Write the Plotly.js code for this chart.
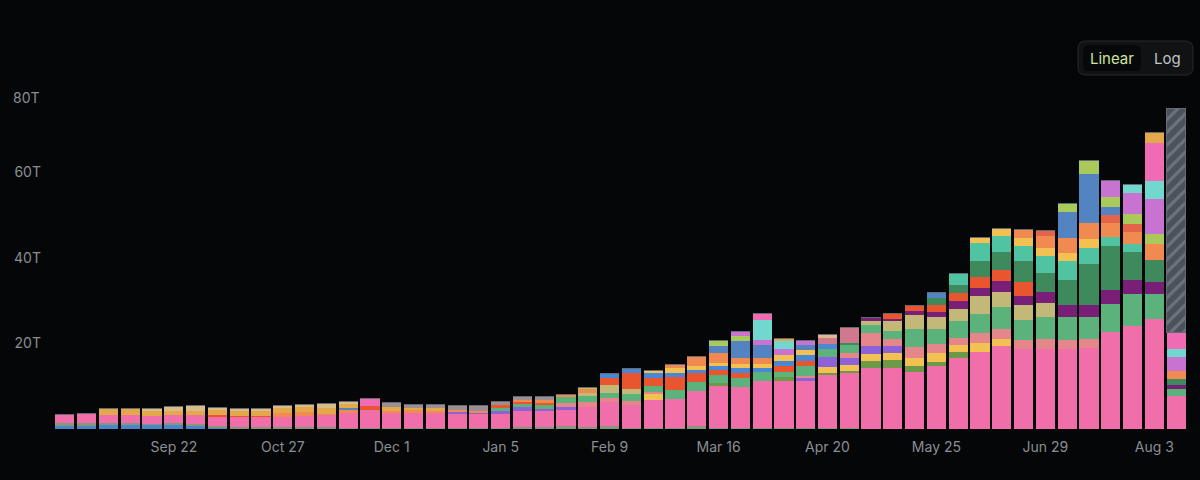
<!DOCTYPE html>
<html><head><meta charset="utf-8">
<script src="https://cdn.plot.ly/plotly-3.0.1.min.js"></script>
<style>html,body{margin:0;padding:0;background:#050608;}#chart{width:1200px;height:480px;}</style>
</head><body><div id="chart"></div>
<script>
// ---------- DATA (values in trillions) ----------
const weeks = [
 '2024-08-18','2024-08-25','2024-09-01','2024-09-08','2024-09-15','2024-09-22','2024-09-29','2024-10-06','2024-10-13','2024-10-20','2024-10-27','2024-11-03','2024-11-10',
 '2024-11-17','2024-11-24','2024-12-01','2024-12-08','2024-12-15','2024-12-22','2024-12-29','2025-01-05','2025-01-12','2025-01-19','2025-01-26','2025-02-02','2025-02-09',
 '2025-02-16','2025-02-23','2025-03-02','2025-03-09','2025-03-16','2025-03-23','2025-03-30','2025-04-06','2025-04-13','2025-04-20','2025-04-27','2025-05-04','2025-05-11',
 '2025-05-18','2025-05-25','2025-06-01','2025-06-08','2025-06-15','2025-06-22','2025-06-29','2025-07-06','2025-07-13','2025-07-20','2025-07-27','2025-08-03','2025-08-10'];
const tickDates  = ['2024-09-22','2024-10-27','2024-12-01','2025-01-05','2025-02-09','2025-03-16','2025-04-20','2025-05-25','2025-06-29','2025-08-03'];
const tickLabels = ['Sep 22','Oct 27','Dec 1','Jan 5','Feb 9','Mar 16','Apr 20','May 25','Jun 29','Aug 3'];
const yTickVals  = [20,40,60];
const yTickLabels= ['20T','40T','60T'];
const yTopLabel  = '80T';

const blue0 = [0.8,0.8,1.0,1.0,0.9,1.0,0.8,0.3,0,0,0,0,0,
 0,0,0,0,0,0,0,0,0,0,0,0,0,
 0,0,0,0,0,0,0,0,0,0,0,0,0,
 0,0,0,0,0,0,0,0,0,0,0,0,0];
const base = [0.7,0.7,0.4,0.4,0.3,0.4,0.3,0.3,0.5,0.5,0.5,0.5,0.5,
 0.3,0.2,0.3,0.3,0.3,0.3,0.3,0.3,0.4,0.4,0.6,0.5,0.6,
 0.3,0.3,0.3,0.6,0.3,0.3,0.3,0.3,0.3,0.3,0.3,0,0,
 0,0,0,0,0,0,0,0,0,0,0,0,0];
const pink = [1.8,2.2,1.9,1.9,1.9,1.9,2.2,2.3,2.2,2.2,2.4,2.6,2.7,
 3.5,4.3,3.4,3.5,3.4,3.3,3.2,3.3,3.9,3.7,3.8,4.7,5.8,
 5.4,6.6,6.7,8.2,9.7,9.5,10.9,10.9,10.9,12.4,12.8,14.3,14.3,
 13.4,14.7,16.6,18.1,19.4,18.6,18.8,18.6,18.9,22.8,24.1,25.7,7.7];
const olive = [0,0,0,0,0,0,0,0,0,0,0,0,0,
 0,0,0,0,0,0,0,0,0,0,0,0,0,
 0,0,0,0,0.8,0,0,0.9,0,0.5,0.5,1.6,1.9,
 1.4,1.0,1.3,0,0,0,0,0,0,0,0,0,0];
const yellowLow = [0,0,0,0,0,0,0,0,0,0,0,0,0,
 0,0,0,0,0,0,0,0,0,0,0,0,0,
 0,1.2,0,0,0,0,0,0,0,1.4,1.4,1.7,1.6,
 1.9,2.0,1.8,2.1,1.6,0,0,0,0,0,0,0,0];
const violetLow = [0,0,0,0,0,0,0,0,0,0,0,0,0,
 0,0,0,0,0,0.3,0.3,0.6,0.8,0.6,0.8,0,0,
 0,0,0,0,0,0,0,0,0.8,2.3,1.7,1.8,1.7,
 0,0,0,0,0,0,0,0,0,0,0,0,0];
const salmon = [0,0,0,0,0,0,0,0,0,0,0,0,0,
 0,0,0,0,0,0,0,0,0,0,0.9,1.1,0.8,
 0.8,0.6,0,0,0,0,0,0,0.4,0,1.0,3.1,1.6,
 2.5,2.3,1.6,2.3,2.5,2.2,2.3,2.3,2.2,0,0,0,0];
const green = [0,0,0,0,0,0,0,0,0,0,0,0,0,
 0,0,0,0,0,0,0,0.7,0.8,0.8,1.4,1.4,1.2,
 1.6,1.3,2.2,2.3,1.9,2.1,2.1,1.2,2.4,1.8,1.9,1.9,1.8,
 4.3,3.5,3.9,4.5,5.1,4.8,5.2,5.3,5.2,6.5,7.5,5.9,1.6];
const khaki = [0,0,0,0,0,0,0,0,0,0,0,0,0,
 0,0,0,0,0,0,0,0,0,0,0,0.8,1.9,
 1.3,0,0,0,0,0,0,0,0,0,0,0.8,2.3,
 3.1,2.7,2.9,4.1,3.5,3.4,3.1,0,0,0,0,0,0];
const purple = [0,0,0,0,0,0,0,0,0,0,0,0,0,
 0,0,0,0,0,0,0,0,0,0,0,0,0,
 0,0,0,0,0,0,0,0,0,0,0,0.8,0.6,
 1.0,1.2,1.8,1.8,2.6,2.1,2.6,2.7,2.8,3.1,3.3,2.7,1.0];
const red = [0,0,0,0,0,0,0,0.3,0.3,0.3,0,0,0,
 0,0.9,0,0,0,0,0,0.6,0.4,0.6,0,0,1.6,
 3.6,1.9,3.0,1.9,1.2,1.2,0,1.4,1.2,0,0,0,1.2,
 1.3,1.6,1.8,2.6,2.6,3.4,0,0,0,0,0,0,0];
const blueMid = [0,0,0,0,0,0,0,0,0,0,0,0,0,
 0,0,0,0,0,0,0,0,0,0,0,0,1.2,
 1.1,1.2,0.9,0.9,0.8,1.2,1.0,1.2,1.2,1.3,0,0,0,
 0,0,0,0,0,0,0,0,0,0,0,0,0];
const dkgreen = [0,0,0,0,0,0,0,0,0,0,0,0,0,
 0,0,0,0,0,0,0,0,0,0,0,0,0,
 0,0,0,0,0,0,0,0,0,0,0.5,0,0,
 0,1.6,2.1,3.9,4.1,4.7,4.4,6.0,9.5,10.5,6.4,5.3,1.3];
const teal = [0,0,0,0,0,0,0,0,0,0,0,0,0,
 0,0,0,0,0,0,0,0,0,0,0,0,0,
 0,0,0,0,0,0,0,0,0,0,0,0,0,
 0,0,2.6,4.2,3.7,3.5,4.1,4.4,3.7,2.0,2.0,0,0];
const yellow = [0,0,0,0,0,0,0,0,0,0,0,0,0,
 0,0,0,0,0,0,0,0,0,0,0,0,0,
 0,0.6,1.2,0.8,0.8,1.0,1.0,1.3,1.2,0,0,0,0,
 0,0,0,1.2,1.7,1.9,1.9,1.9,2.1,0,0,0,0];
const orange = [0,0,0,0,0,0,0,0,0,0,0.9,0.8,0.4,
 0.6,0,0.6,0.6,0.5,0.5,0.5,0,0.6,0.6,0.6,0.8,0,
 0,0,0.8,2.2,2.3,1.3,1.3,0,0,0,0,0,0,
 0,0,0,0,0,2.1,2.7,3.4,3.7,3.4,2.9,3.7,2.0];
const redTop = [0,0,0,0,0,0,0,0,0,0,0,0,0,
 0,0,0,0,0,0,0,0,0,0,0,0,0,
 0,0,0,0,0,0,0,0,0,0,0,0,0,
 0,0,0,0,0,0,1.3,0,0,1.8,1.8,0,0];
const mauve = [0,0,0,0,0,0,0,0,0,0,0,0,0,
 0,0,0,0,0,0,0,0,0,0,0,0,0,
 0,0,0,0,0,0,0,0,0,1.2,3.6,0,0,
 0,0,0,0,0,0,0,0,0,0,0,0,0];
const steel = [0,0,0,0,0,0,0,0,0,0,0,0,0,
 0.5,0,0,0,0,0,0,0,0,0,0,0,0,
 0,0,0,0,1.6,3.9,3.1,0,1.3,0,0,0,0,
 0,1.3,0,0,0,0,0,6.1,11.5,1.9,0,0,0];
const lime = [0,0,0,0,0,0,0,0,0,0,0,0,0,
 0,0,0,0,0,0,0,0,0,0,0,0.3,0,
 0,0,0,0,1.2,1.2,0,0,0,0,0,0,0,
 0,0,0,0,0,0,0,2.0,3.3,2.3,2.3,2.3,0];
const orchid = [0,0,0,0,0,0,0,0,0,0,0,0,0,
 0,0,0,0,0,0,0,0,0,0,0,0,0,
 0,0,0,0,0,1.2,1.2,1.6,1.0,0,0,0,0,
 0,0,0,0,0,0,0,0,0,3.9,4.9,8.1,3.3];
const cyan = [0,0,0,0,0,0,0,0,0,0,0,0,0,
 0,0,0,0,0,0,0,0,0,0,0,0,0,
 0,0,0,0,0,0,4.5,1.8,0,0,0,0,0,
 0,0,0,0,0,0,0,0,0,0,1.9,4.3,1.7];
const pink2 = [0,0,0,0,0,0,0,0,0,0,0,0,0,
 0,1.8,0,0,0,0,0,0,0,0,0,0,0,
 0,0,0,0,0,0,1.7,0,0,0,0,0,0,
 0,0,0,0,0,0,0,0,0,0,0,8.9,3.9];
const gold = [0,0,1.4,1.5,1.2,0.8,1.0,1.2,1.2,1.3,1.2,1.3,1.2,
 1.0,0,0.8,0.5,0.6,0,0,0,0,0,0,0,0,
 0,0,0,0,0,0,0,0.5,0,0,0,0,0,
 0,0,0,0,0,0,0,0,0,0,0,2.5,0];
const tan = [0,0,0,0,0.5,1.2,1.1,0.7,0.5,0.5,0.5,0.6,1.2,
 0.5,0,0,0,0,0,0,0,0,0,0,0,0,
 0,0,0,0,0,0,0,0,0,0.8,0,0,0,
 0,0,0,0,0,0,0,0,0,0,0,0,0];
const mist = [0,0,0,0,0,0,0,0,0,0,0,0,0,
 0,0,1.1,0.9,1.0,1.2,1.2,0.9,0.8,0.9,0,0,0,
 0,0,0,0,0,0,0,0,0,0,0,0,0,
 0,0,0,0,0,0,0,0,0,0,0,0,0];
const incomplete = [0,0,0,0,0,0,0,0,0,0,0,0,0,
 0,0,0,0,0,0,0,0,0,0,0,0,0,
 0,0,0,0,0,0,0,0,0,0,0,0,0,
 0,0,0,0,0,0,0,0,0,0,0,0,52.4];

// ---------- SERIES (stack order bottom -> top) ----------
const series = [
 ['blue0', blue0, '#4a86c9'], ['base', base, '#86977f'], ['pink', pink, '#f06eaa'],
 ['olive', olive, '#6e9a48'], ['yellowLow', yellowLow, '#f3c052'], ['violetLow', violetLow, '#8c62d6'],
 ['salmon', salmon, '#e5868a'], ['green', green, '#5bb27a'], ['khaki', khaki, '#c4b878'],
 ['purple', purple, '#7a1f78'], ['red', red, '#e8552f'], ['blueMid', blueMid, '#4a88d6'],
 ['dkgreen', dkgreen, '#3f8a5c'], ['teal', teal, '#50c4a2'], ['yellow', yellow, '#f3c052'],
 ['orange', orange, '#f08a50'], ['redTop', redTop, '#e4644a'], ['mauve', mauve, '#d0788e'],
 ['steel', steel, '#5383c0'], ['lime', lime, '#a9c95a'], ['orchid', orchid, '#c872d2'],
 ['cyan', cyan, '#72d8cf'], ['pink2', pink2, '#f06ab4'], ['gold', gold, '#e2a84a'],
 ['tan', tan, '#d8bc8c'], ['mist', mist, '#9c8f94']
];

const traces = series.map(([name, vals, color]) => ({
  type: 'bar', name: name, x: weeks, y: vals,
  marker: {color: color, line: {width: 0}},
  hoverinfo: 'x+y+name'
}));
traces.push({
  type: 'bar', name: 'incomplete', x: weeks, y: incomplete,
  marker: {color: '#50565f', line: {color: '#646b75', width: 1},
           pattern: {shape: '/', fgcolor: '#6c737d', bgcolor: '#4c525b', size: 9, solidity: 0.35}},
  hoverinfo: 'skip'
});

// ---------- LAYOUT ----------
const L = 54, R = 13, T = 87, B = 51, W = 1200 - L - R, H = 480 - T - B;
const px = x => (x - L) / W;
const py = y => (480 - B - y) / H;
function rr(x0, y0, x1, y1, r) {
  const a = px(x0), b = px(x1), c = py(y0), d = py(y1), rx = r / W, ry = r / H;
  return `M${a+rx},${c} L${b-rx},${c} Q${b},${c} ${b},${c-ry} L${b},${d+ry} Q${b},${d} ${b-rx},${d} ` +
         `L${a+rx},${d} Q${a},${d} ${a},${d+ry} L${a},${c-ry} Q${a},${c} ${a+rx},${c} Z`;
}
const tickFont = {family: 'Inter, Roboto, sans-serif', size: 14, color: '#8a8e94'};

const layout = {
  width: 1200, height: 480,
  barmode: 'stack', bargap: 0.12,
  paper_bgcolor: '#050608', plot_bgcolor: '#050608',
  showlegend: false,
  margin: {l: L, r: R, t: T, b: B, pad: 0},
  xaxis: {
    type: 'date', range: ['2024-08-14 12:00', '2025-08-13 12:00'],
    tickvals: tickDates, ticktext: tickLabels,
    showgrid: false, zeroline: false, showline: false, ticks: '',
    tickfont: tickFont, ticklabelstandoff: 8, fixedrange: true
  },
  yaxis: {
    range: [0, 80], tickvals: yTickVals, ticktext: yTickLabels,
    showgrid: false, zeroline: false, showline: false, ticks: '',
    tickfont: tickFont, ticklabelstandoff: 12, fixedrange: true
  },
  shapes: [
    {type: 'path', xref: 'paper', yref: 'paper', path: rr(1078, 41, 1193, 75, 8),
     fillcolor: '#101214', line: {color: '#262a2e', width: 1}, layer: 'above'},
    {type: 'path', xref: 'paper', yref: 'paper', path: rr(1083, 45, 1141, 71, 6),
     fillcolor: '#06080a', line: {width: 0}, layer: 'above'}
  ],
  annotations: [
    {xref: 'paper', yref: 'y', x: 0, y: 80, xanchor: 'right', yanchor: 'middle',
     xshift: -12, yshift: -10, text: yTopLabel, showarrow: false, font: tickFont},
    {xref: 'paper', yref: 'paper', x: px(1112), y: py(58.5), xanchor: 'center', yanchor: 'middle',
     text: 'Linear', showarrow: false, font: {family: 'Inter, Roboto, sans-serif', size: 15, color: '#cde59c'}},
    {xref: 'paper', yref: 'paper', x: px(1167), y: py(58.5), xanchor: 'center', yanchor: 'middle',
     text: 'Log', showarrow: false, font: {family: 'Inter, Roboto, sans-serif', size: 15, color: '#c2c4c6'}}
  ]
};

Plotly.newPlot('chart', traces, layout, {displayModeBar: false, staticPlot: true});
</script>
</body></html>
